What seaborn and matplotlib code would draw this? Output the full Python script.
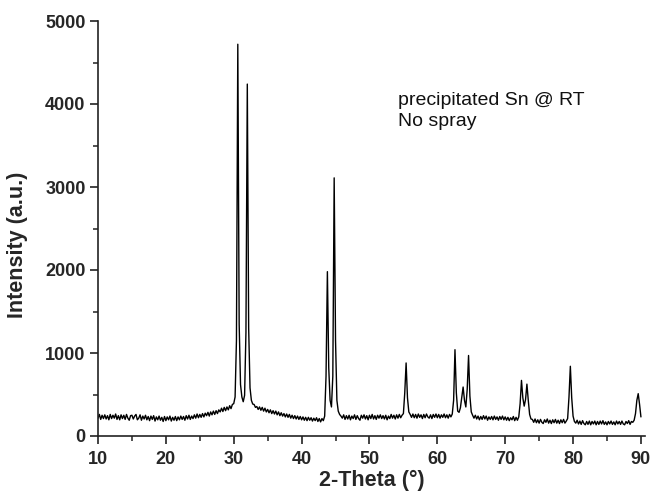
import numpy as np
import pandas as pd
import matplotlib
matplotlib.use("Agg")
import matplotlib.pyplot as plt
from matplotlib.ticker import MultipleLocator
import seaborn as sns

# 2-theta grid: 10 to 90 deg, 0.2 deg step (rows = one degree each)
theta_start = 10.0
theta_step = 0.2
intensity = [
    215, 260, 200, 250, 210,   # 10
    255, 205, 245, 195, 260,   # 11
    210, 250, 215, 265, 200,   # 12
    245, 195, 255, 210, 250,   # 13
    200, 260, 215, 190, 245,   # 14
    250, 205, 240, 260, 195,   # 15
    215, 255, 190, 240, 205,   # 16
    250, 195, 235, 185, 240,   # 17
    200, 245, 180, 230, 195,   # 18
    240, 190, 225, 175, 235,   # 19
    185, 230, 195, 240, 180,   # 20
    225, 190, 235, 185, 230,   # 21
    195, 240, 200, 235, 190,   # 22
    245, 205, 250, 200, 240,   # 23
    210, 255, 215, 265, 220,   # 24
    260, 225, 270, 230, 275,   # 25
    245, 285, 240, 290, 255,   # 26
    300, 260, 305, 270, 315,   # 27
    290, 335, 295, 345, 305,   # 28
    350, 315, 365, 330, 380,   # 29
    390, 470, 1150, 4720, 1350,  # 30
    620, 470, 413, 490, 1250,  # 31
    4240, 1300, 580, 430, 385,  # 32
    380, 345, 355, 320, 350,   # 33
    310, 345, 300, 335, 290,   # 34
    320, 280, 315, 270, 305,   # 35
    265, 300, 255, 290, 245,   # 36
    280, 240, 270, 230, 265,   # 37
    225, 260, 215, 250, 210,   # 38
    245, 205, 240, 200, 235,   # 39
    195, 230, 190, 225, 185,   # 40
    225, 190, 220, 180, 215,   # 41
    185, 220, 175, 210, 170,   # 42
    210, 185, 240, 720, 1980,  # 43
    820, 430, 350, 720, 3110,  # 44
    1150, 430, 300, 260, 240,  # 45
    215, 255, 200, 245, 205,   # 46
    250, 195, 240, 210, 255,   # 47
    200, 245, 210, 190, 250,   # 48
    215, 255, 205, 245, 195,   # 49
    250, 210, 260, 205, 245,   # 50
    200, 250, 215, 255, 210,   # 51
    245, 205, 250, 195, 240,   # 52
    210, 260, 215, 250, 205,   # 53
    255, 215, 260, 220, 250,   # 54
    270, 520, 880, 460, 290,   # 55
    260, 225, 265, 220, 260,   # 56
    215, 265, 225, 255, 210,   # 57
    260, 220, 265, 230, 215,   # 58
    255, 210, 260, 225, 265,   # 59
    220, 260, 215, 255, 225,   # 60
    265, 220, 255, 215, 260,   # 61
    230, 265, 430, 1040, 520,  # 62
    300, 285, 340, 470, 590,   # 63
    430, 350, 560, 970, 480,   # 64
    290, 250, 215, 250, 205,   # 65
    240, 195, 235, 200, 245,   # 66
    205, 240, 190, 230, 200,   # 67
    235, 195, 240, 200, 230,   # 68
    190, 235, 200, 240, 195,   # 69
    230, 190, 225, 185, 220,   # 70
    195, 235, 185, 225, 190,   # 71
    230, 390, 670, 460, 360,   # 72
    440, 625, 430, 260, 205,   # 73
    200, 165, 205, 160, 195,   # 74
    155, 200, 165, 150, 195,   # 75
    165, 205, 155, 190, 150,   # 76
    195, 160, 200, 155, 190,   # 77
    150, 195, 160, 200, 155,   # 78
    180, 210, 470, 840, 460,   # 79
    240, 175, 155, 190, 145,   # 80
    180, 140, 185, 150, 135,   # 81
    175, 140, 180, 135, 175,   # 82
    145, 180, 135, 175, 140,   # 83
    180, 145, 185, 140, 170,   # 84
    135, 175, 145, 180, 140,   # 85
    170, 135, 180, 145, 175,   # 86
    140, 180, 145, 135, 175,   # 87
    150, 185, 140, 175, 165,   # 88
    190, 270, 430, 510, 380,   # 89
    230,                       # 90
]
two_theta = theta_start + theta_step * np.arange(len(intensity))

x_ticks = [10, 20, 30, 40, 50, 60, 70, 80, 90]
y_ticks = [0, 1000, 2000, 3000, 4000, 5000]
annotation = "precipitated Sn @ RT\nNo spray"

df = pd.DataFrame({"two_theta": two_theta, "intensity": intensity})

sns.set_style("ticks")
plt.rcParams["font.family"] = ["Liberation Sans", "DejaVu Sans"]

fig = plt.figure(figsize=(6.51, 4.95), dpi=100)
ax = fig.add_axes([98 / 651, 59 / 495, 547 / 651, 415 / 495])

sns.lineplot(data=df, x="two_theta", y="intensity", color="black",
             linewidth=1.0, ax=ax, estimator=None, sort=False)

ax.set_xlim(10, 90.6)
ax.set_ylim(0, 5000)
ax.set_xticks(x_ticks)
ax.set_yticks(y_ticks)
ax.xaxis.set_minor_locator(MultipleLocator(5))
ax.yaxis.set_minor_locator(MultipleLocator(500))

for s in ["top", "right"]:
    ax.spines[s].set_visible(False)
for s in ["left", "bottom"]:
    ax.spines[s].set_linewidth(1.2)
    ax.spines[s].set_color("#222222")

ax.tick_params(axis="both", which="major", direction="out", length=6,
               width=1.2, labelsize=13, color="#222222", pad=3)
ax.tick_params(axis="x", which="major", pad=5)
ax.tick_params(axis="both", which="minor", direction="out", length=3.6,
               width=1.1, color="#222222")
for lab in ax.get_xticklabels() + ax.get_yticklabels():
    lab.set_fontweight("bold")

ax.set_xlabel("2-Theta (°)", fontsize=15.5, fontweight="bold", labelpad=1)
ax.set_ylabel("Intensity (a.u.)", fontsize=15.5, fontweight="bold")
ax.yaxis.set_label_coords(-0.128, 0.46)

ax.text(54.2, 4140, annotation, fontsize=14, va="top", ha="left",
        color="#111111", linespacing=1.3)

fig.savefig("out.png", dpi=100)
